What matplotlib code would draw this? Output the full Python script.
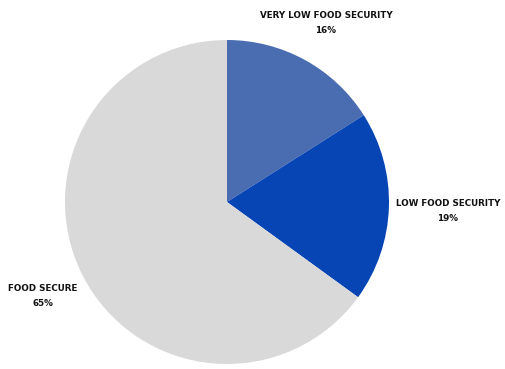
import matplotlib.pyplot as plt

# food security breakdown
categories = ["VERY LOW FOOD SECURITY", "LOW FOOD SECURITY", "FOOD SECURE"]
shares = [16, 19, 65]
colors = ["#4a6cb0", "#0745b5", "#d9d9d9"]

fig = plt.figure(figsize=(5.05, 3.69), dpi=100)
ax = fig.add_axes([0, 0, 1, 1])

ax.pie(shares, colors=colors, startangle=90, counterclock=False,
       center=(227, 167), radius=162, frame=True,
       wedgeprops=dict(linewidth=0))
ax.axis("off")
ax.set_xlim(0, 505)
ax.set_ylim(0, 369)
ax.set_aspect("equal")

# label spots (pixel space, y up)
label_pos = [(326, 346), (448, 158), (43, 73)]
for name, val, (x, y) in zip(categories, shares, label_pos):
    ax.text(x, y, f"{name}\n{val}%", ha="center", va="center",
            fontsize=6.3, fontweight="bold", color="#111111",
            linespacing=1.9)

fig.savefig("out.png", dpi=100)
